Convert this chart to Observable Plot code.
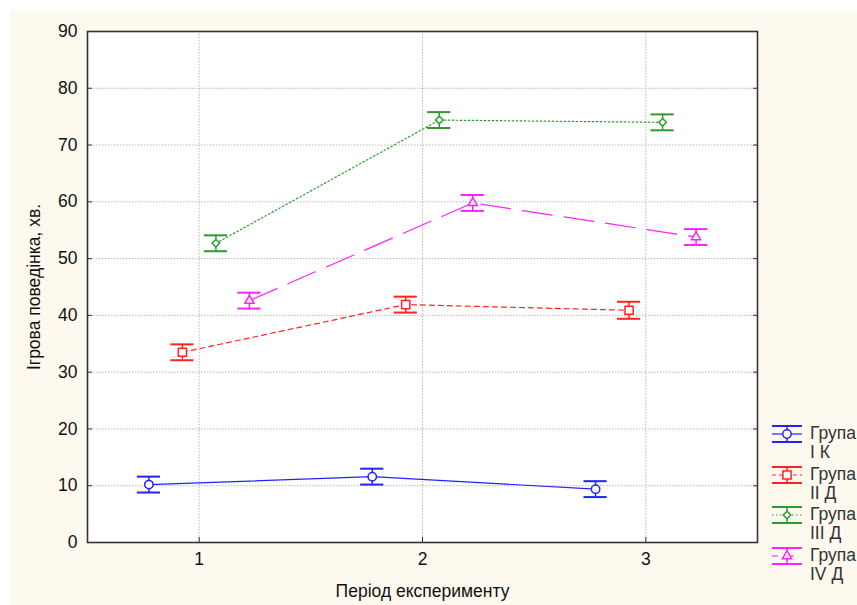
<!DOCTYPE html>
<html>
<head>
<meta charset="utf-8">
<script src="https://cdn.jsdelivr.net/npm/d3@7"></script>
<script src="https://cdn.jsdelivr.net/npm/@observablehq/plot@0.6"></script>
<style>
  html, body { margin: 0; padding: 0; background: #ffffff; overflow: hidden; width: 857px; height: 605px; }
  #page { position: absolute; left: 10px; top: 11px; width: 847px; height: 594px; background: #fef9ee; }
  #chart { position: absolute; left: 0; top: 0; }
  #legend { position: absolute; left: 772px; top: 0; font-family: "Liberation Sans", Arial, sans-serif; font-size: 17.5px; color: #333; white-space: nowrap; }
  .item { position: absolute; left: 0; display: flex; align-items: flex-start; }
  .item svg { display: block; margin-top: 0; }
  .item .lbl { margin-left: 8px; line-height: 19px; margin-top: -1px; }
</style>
</head>
<body>
<div id="page"></div>
<div id="chart"></div>
<div id="legend"></div>
<script>
// Experiment periods and y-axis ticks
const periods = [1, 2, 3];
const yTicks = [0, 10, 20, 30, 40, 50, 60, 70, 80, 90];

// Group names (legend text)
const groupWord = "Група";
const groupCodes = ["I К", "II Д", "III Д", "IV Д"];

// Mean play behaviour, minutes, per period
const valuesI = [10.2, 11.6, 9.4];
const valuesII = [33.5, 41.9, 40.9];
const valuesIII = [52.7, 74.4, 74.0];
const valuesIV = [42.6, 59.8, 53.8];

// Standard errors per period
const errorsI = [1.4, 1.4, 1.4];
const errorsII = [1.4, 1.4, 1.5];
const errorsIII = [1.4, 1.4, 1.4];
const errorsIV = [1.4, 1.4, 1.4];

const series = [valuesI, valuesII, valuesIII, valuesIV];
const errors = [errorsI, errorsII, errorsIII, errorsIV];

// Per-group drawing style: horizontal dodge (in period units), colour, dash, symbol
const styles = [
  {dodge: -0.225, color: "#2222ff", dash: null, symbol: "circle", r: 4.2, legendDash: null},
  {dodge: -0.075, color: "#ff2222", dash: "5,4", symbol: "square", r: 4.6, legendDash: "4,3"},
  {dodge: 0.075, color: "#2e9a2e", dash: "1.5,2.5", symbol: "diamond2", r: 3.4, legendDash: "1.5,2.5"},
  {dodge: 0.225, color: "#ff22ff", dash: "30,12", symbol: "triangle", r: 3.4, legendDash: "6,10"}
];
const capHalf = 0.052; // half-width of error-bar caps, in period units

const rows = [];
series.forEach((vals, gi) => {
  periods.forEach((p, pi) => {
    rows.push({group: gi, period: p, x: p + styles[gi].dodge, value: vals[pi], err: errors[gi][pi]});
  });
});

const groupMarks = styles.flatMap((s, gi) => {
  const data = rows.filter(d => d.group === gi);
  return [
    Plot.line(data, {x: "x", y: "value", stroke: s.color, strokeWidth: 1.2, strokeDasharray: s.dash ?? undefined}),
    Plot.ruleX(data, {x: "x", y1: d => d.value - d.err, y2: d => d.value + d.err, stroke: s.color, strokeWidth: 1.5}),
    Plot.ruleY(data, {y: d => d.value - d.err, x1: d => d.x - capHalf, x2: d => d.x + capHalf, stroke: s.color, strokeWidth: 2}),
    Plot.ruleY(data, {y: d => d.value + d.err, x1: d => d.x - capHalf, x2: d => d.x + capHalf, stroke: s.color, strokeWidth: 2}),
    Plot.dot(data, {x: "x", y: "value", symbol: s.symbol, r: s.r, fill: "white", stroke: s.color, strokeWidth: 1.5})
  ];
});

const chart = Plot.plot({
  width: 857,
  height: 605,
  marginLeft: 87,
  marginRight: 100,
  marginTop: 31,
  marginBottom: 63,
  style: {fontFamily: "'Liberation Sans', Arial, sans-serif", fontSize: "17.5px", background: "transparent", color: "#111"},
  x: {domain: [0.5, 3.5]},
  y: {domain: [0, 90]},
  marks: [
    Plot.frame({fill: "white", stroke: null}),
    Plot.gridY(yTicks.slice(1, -1), {stroke: "#b8b8b8", strokeOpacity: 1, strokeDasharray: "1.5,1.5"}),
    Plot.gridX(periods, {stroke: "#b8b8b8", strokeOpacity: 1, strokeDasharray: "1.5,1.5"}),
    Plot.axisY(yTicks, {anchor: "left", tickSize: 0, tickPadding: 10, tickFormat: "d", label: "Ігрова поведінка, хв.", labelAnchor: "center", labelArrow: "none", labelOffset: 60}),
    Plot.axisY(yTicks, {anchor: "left", tickSize: 5, dx: 5, fill: "none", label: null, stroke: "#333"}),
    Plot.axisY(yTicks, {anchor: "right", tickSize: 5, dx: -5, fill: "none", label: null, stroke: "#333"}),
    Plot.axisX(periods, {anchor: "bottom", tickSize: 0, tickPadding: 10, tickFormat: "d", label: "Період експерименту", labelAnchor: "center", labelArrow: "none", labelOffset: 54}),
    Plot.axisX(periods, {anchor: "bottom", tickSize: 5, dy: -5, fill: "none", label: null, stroke: "#333"}),
    ...groupMarks,
    Plot.frame({stroke: "#333", strokeWidth: 1.6})
  ]
});
document.getElementById("chart").append(chart);

// Legend built from the group names and styles
const symbolMap = {circle: d3.symbolCircle, square: d3.symbolSquare, diamond2: d3.symbolDiamond2, triangle: d3.symbolTriangle};
const legend = d3.select("#legend");
groupCodes.forEach((code, gi) => {
  const s = styles[gi];
  const item = legend.append("div").attr("class", "item").style("top", (425 + gi * 40.5) + "px");
  const svg = item.append("svg").attr("width", 30).attr("height", 19);
  svg.append("line").attr("x1", 0).attr("x2", 30).attr("y1", 1).attr("y2", 1).attr("stroke", s.color).attr("stroke-width", 2);
  svg.append("line").attr("x1", 0).attr("x2", 30).attr("y1", 17).attr("y2", 17).attr("stroke", s.color).attr("stroke-width", 2);
  svg.append("line").attr("x1", 15).attr("x2", 15).attr("y1", 1).attr("y2", 17).attr("stroke", s.color).attr("stroke-width", 1.5);
  svg.append("line").attr("x1", 0).attr("x2", 30).attr("y1", 9).attr("y2", 9).attr("stroke", s.color).attr("stroke-width", 1.2)
    .attr("stroke-dasharray", s.legendDash);
  svg.append("path").attr("transform", "translate(15,9)")
    .attr("d", d3.symbol(symbolMap[s.symbol], Math.PI * s.r * s.r)())
    .attr("fill", "white").attr("stroke", s.color).attr("stroke-width", 1.5);
  const lbl = item.append("div").attr("class", "lbl");
  lbl.append("div").text(groupWord);
  lbl.append("div").text(code);
});
</script>
</body>
</html>
